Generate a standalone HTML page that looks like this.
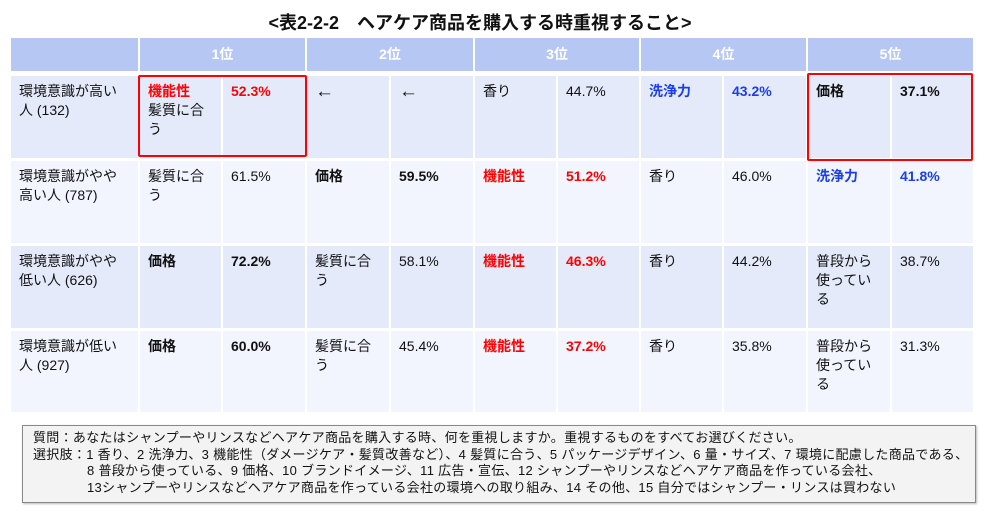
<!DOCTYPE html>
<html><head><meta charset="utf-8"><style>
*{margin:0;padding:0;box-sizing:border-box}
body{width:1000px;height:512px;background:#fff;font-family:"Liberation Sans","Noto Sans CJK JP",sans-serif;position:relative;overflow:hidden;color:#111}
.t{position:absolute;left:0;width:960px;top:9px;text-align:center;font-weight:bold;font-size:18px}
.c{position:absolute;font-size:14px;line-height:19px;padding:6px 0 0 8px}
.h{position:absolute;background:#b7c7f3;color:#fff;font-weight:bold;font-size:14px;text-align:center;line-height:33px;top:38px;height:33px}
.b{font-weight:bold}.r{color:#f00;font-weight:bold}.bl{color:#1a3ee8;font-weight:bold}
.ar{font-size:19px}
.box{position:absolute;border:2.5px solid #f00;border-radius:2px}
.note{position:absolute;left:22px;top:425px;width:954px;height:78px;border:1px solid #888;background:#f3f3f3;font-size:13px;letter-spacing:0.3px;line-height:16.5px;padding:4px 0 0 10px;box-shadow:1px 1px 2px #bbb;white-space:nowrap;overflow:hidden}
</style></head><body>
<div class="t">&lt;表2-2-2　ヘアケア商品を購入する時重視すること&gt;</div>
<div id="tbl"></div>
<div class="note">
<div>質問：あなたはシャンプーやリンスなどヘアケア商品を購入する時、何を重視しますか。重視するものをすべてお選びください。</div>
<div>選択肢：1 香り、2 洗浄力、3 機能性（ダメージケア・髪質改善など）、4 髪質に合う、5 パッケージデザイン、6 量・サイズ、7 環境に配慮した商品である、</div>
<div style="padding-left:54px">8 普段から使っている、9 価格、10 ブランドイメージ、11 広告・宣伝、12 シャンプーやリンスなどヘアケア商品を作っている会社、</div>
<div style="padding-left:54px">13シャンプーやリンスなどヘアケア商品を作っている会社の環境への取り組み、14 その他、15 自分ではシャンプー・リンスは買わない</div>
</div>
<script>
const colX=[11,140,223,307,391,475,558,641,724,808,892,975];
const rowY=[75,160,245,330,414];
const rowLabels=["環境意識が高い<br>人 (132)","環境意識がやや<br>高い人 (787)","環境意識がやや<br>低い人 (626)","環境意識が低い<br>人 (927)"];
const ranks=["1位","2位","3位","4位","5位"];
const items=[
[['<span class="r">機能性</span><br>髪質に合<br>う','<span class="r">52.3%</span>'],['<span class="ar">←</span>','<span class="ar">←</span>'],['香り','44.7%'],['<span class="bl">洗浄力</span>','<span class="bl">43.2%</span>'],['<span class="b">価格</span>','<span class="b">37.1%</span>']],
[['髪質に合<br>う','61.5%'],['<span class="b">価格</span>','<span class="b">59.5%</span>'],['<span class="r">機能性</span>','<span class="r">51.2%</span>'],['香り','46.0%'],['<span class="bl">洗浄力</span>','<span class="bl">41.8%</span>']],
[['<span class="b">価格</span>','<span class="b">72.2%</span>'],['髪質に合<br>う','58.1%'],['<span class="r">機能性</span>','<span class="r">46.3%</span>'],['香り','44.2%'],['普段から<br>使ってい<br>る','38.7%']],
[['<span class="b">価格</span>','<span class="b">60.0%</span>'],['髪質に合<br>う','45.4%'],['<span class="r">機能性</span>','<span class="r">37.2%</span>'],['香り','35.8%'],['普段から<br>使ってい<br>る','31.3%']]];
const T=document.getElementById('tbl');
function mk(cls,x,y,w,h,html,bg){const d=document.createElement('div');d.className=cls;d.style.left=x+'px';d.style.top=y+'px';d.style.width=w+'px';d.style.height=h+'px';if(bg)d.style.background=bg;d.innerHTML=html;T.appendChild(d);return d;}
let h0=mk('h',colX[0],38,colX[1]-colX[0]-2,33,'');


ranks.forEach((r,i)=>{const x=colX[1+2*i],w=colX[3+2*i]-x-2;const d=mk('h',x,38,w,33,r);

});
rowLabels.forEach((lab,ri)=>{const y=rowY[ri]+1,h=rowY[ri+1]-rowY[ri]-3;const bg=ri%2?'#f2f5fe':'#e5eafb';
const d=mk('c',colX[0],y,colX[1]-colX[0]-2,h,lab,bg);


items[ri].forEach((it,ci)=>{for(let k=0;k<2;k++){const x=colX[1+2*ci+k],w=colX[2+2*ci+k]-x-2;const e=mk('c',x,y,w,h,it[k],bg);

}});});
const b1=mk('box',138,75,169,82,'');


const b2=mk('box',807,73,166,88,'');


</script>
</body></html>
